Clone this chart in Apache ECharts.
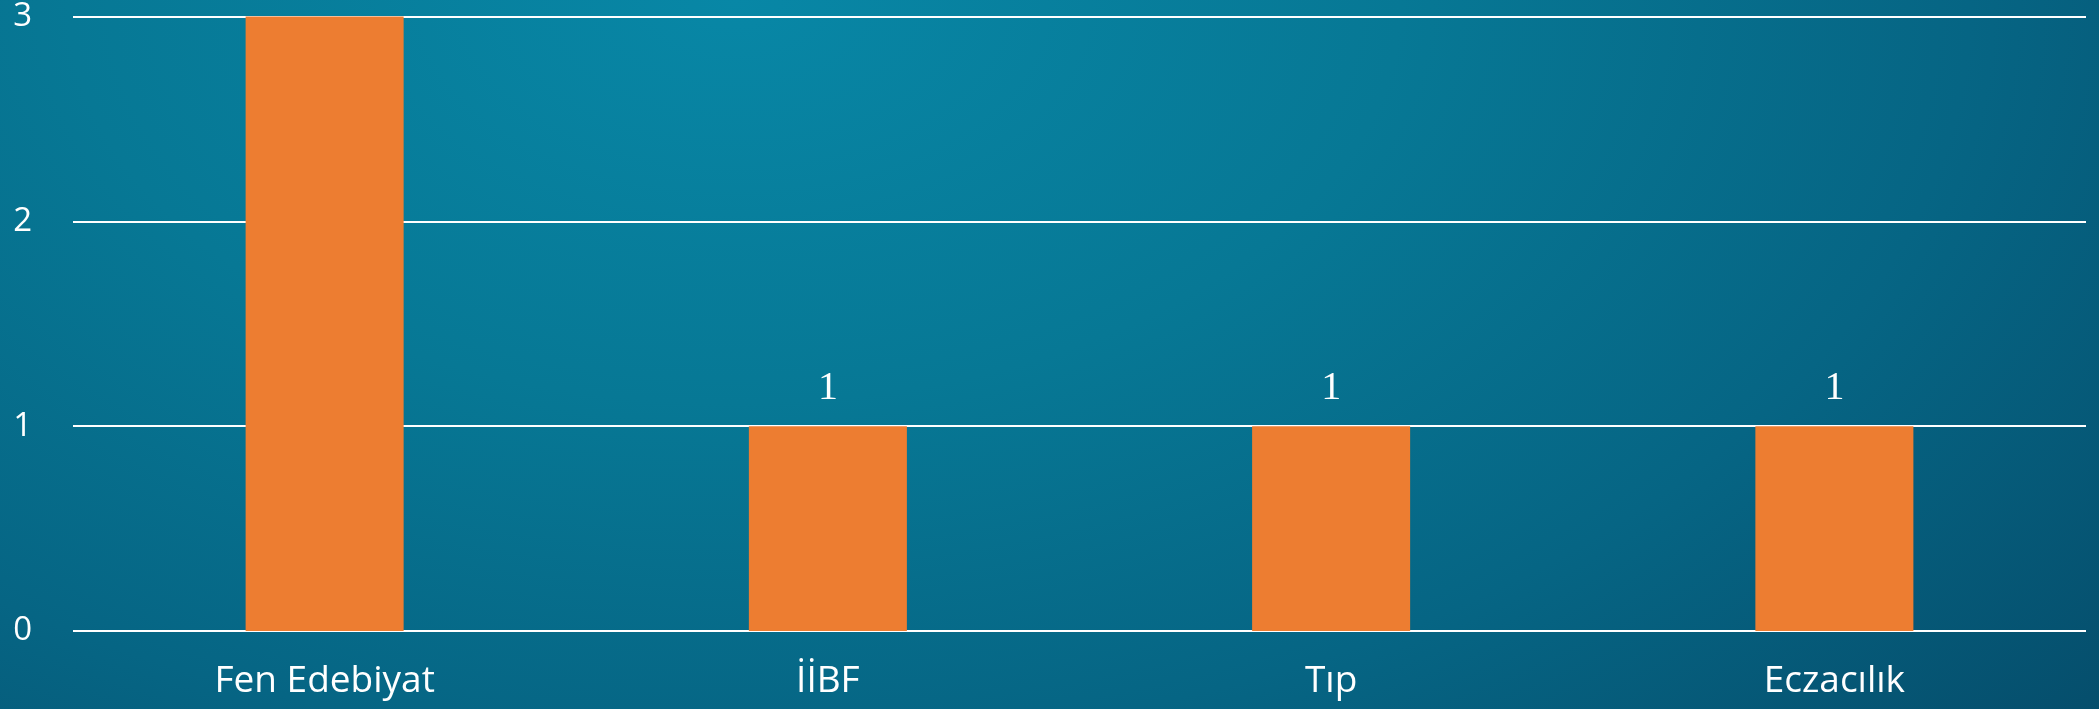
<!DOCTYPE html>
<html>
<head>
<meta charset="utf-8">
<title>Fakülte dağılımı</title>
<script src="https://cdn.jsdelivr.net/npm/echarts@6/dist/echarts.min.js"></script>
<style>
html, body { margin: 0; padding: 0; }
#main {
    width: 2099px;
    height: 709px;
    background: radial-gradient(ellipse 1900px 1150px at 35% 0%, #0887a6 0%, #077895 35%, #066584 65%, #054a68 100%);
}
</style>
</head>
<body>
<div id="main"></div>
<script>
// veriler
var categories = ['Fen Edebiyat', 'İİBF', 'Tıp', 'Eczacılık'];
var values = [3, 1, 1, 1];
var yTicks = [0, 1, 2, 3];

var chart = echarts.init(document.getElementById('main'));

chart.setOption({
    backgroundColor: 'transparent',
    grid: {
        left: 73,
        right: 13,
        top: 15,
        bottom: 78
    },
    xAxis: {
        type: 'category',
        data: categories,
        axisLine: { show: false },
        axisTick: { show: false },
        axisLabel: {
            color: '#ffffff',
            fontFamily: 'Open Sans',
            fontSize: 37,
            margin: 32
        }
    },
    yAxis: {
        type: 'value',
        min: yTicks[0],
        max: yTicks[yTicks.length - 1],
        interval: 1,
        axisLine: { show: false },
        axisTick: { show: false },
        axisLabel: {
            color: '#ffffff',
            fontFamily: 'Open Sans',
            fontSize: 33,
            margin: 41
        },
        splitLine: {
            lineStyle: { color: '#ffffff', width: 2 }
        }
    },
    series: [{
        type: 'bar',
        data: values,
        barWidth: '31.4%',
        itemStyle: { color: '#ed7d31' },
        label: {
            show: true,
            position: 'top',
            distance: 18,
            color: '#ffffff',
            fontFamily: 'Liberation Serif',
            fontSize: 40
        },
        z: 3
    }]
});
</script>
</body>
</html>
